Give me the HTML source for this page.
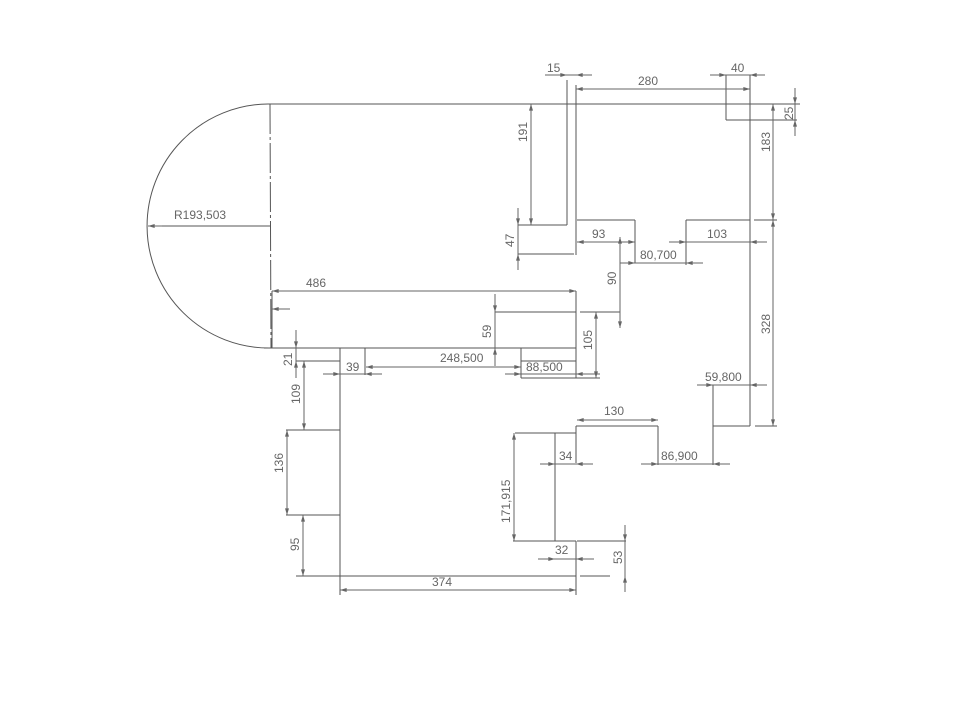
<!DOCTYPE html>
<html><head><meta charset="utf-8"><style>
html,body{margin:0;padding:0;background:#fff;}
svg{display:block;}
text{font-family:"Liberation Sans",sans-serif;font-size:12px;fill:#666;}
</style></head><body>
<svg width="961" height="723" viewBox="0 0 961 723" xmlns="http://www.w3.org/2000/svg">
<defs>
<marker id="a" viewBox="0 0 10 6" refX="10" refY="3" markerWidth="7" markerHeight="4" orient="auto-start-reverse" markerUnits="userSpaceOnUse"><path d="M0,0L10,3L0,6z" fill="#666"/></marker>
</defs>
<g stroke="#555" stroke-width="1" fill="none">
<path d="M268,104 A122,122 0 0 0 270,348"/>
<line x1="268" y1="104" x2="800" y2="104"/>
<line x1="270" y1="104" x2="271" y2="348" stroke-dasharray="30,3,3,3"/>
<line x1="148" y1="226" x2="270" y2="226"/>
<line x1="264" y1="348" x2="576" y2="348"/>
<line x1="272" y1="291" x2="272" y2="348"/>
<line x1="567" y1="80" x2="567" y2="225"/>
<line x1="576" y1="85" x2="576" y2="255"/>
<line x1="518" y1="225" x2="567" y2="225"/>
<line x1="518" y1="225" x2="518" y2="254"/>
<line x1="518" y1="254" x2="574" y2="254"/>
<line x1="577" y1="220" x2="635" y2="220"/>
<line x1="635" y1="220" x2="635" y2="263"/>
<line x1="686" y1="220" x2="750" y2="220"/>
<line x1="686" y1="220" x2="686" y2="265"/>
<line x1="754" y1="220" x2="777" y2="220"/>
<line x1="750" y1="75" x2="750" y2="426"/>
<line x1="726" y1="75" x2="726" y2="120"/>
<line x1="726" y1="120" x2="797" y2="120"/>
<line x1="580" y1="312" x2="620" y2="312"/>
<line x1="495" y1="312" x2="576" y2="312"/>
<line x1="576" y1="291" x2="576" y2="378"/>
<line x1="296" y1="361" x2="340" y2="361"/>
<line x1="521" y1="361" x2="576" y2="361"/>
<line x1="521" y1="348" x2="521" y2="378"/>
<line x1="521" y1="378" x2="600" y2="378"/>
<line x1="340" y1="348" x2="340" y2="576"/>
<line x1="365" y1="348" x2="365" y2="375"/>
<line x1="286" y1="430" x2="340" y2="430"/>
<line x1="286" y1="515" x2="340" y2="515"/>
<line x1="296" y1="576" x2="576" y2="576"/>
<line x1="580" y1="576" x2="610" y2="576"/>
<line x1="340" y1="576" x2="340" y2="595"/>
<line x1="576" y1="541" x2="576" y2="595"/>
<line x1="555" y1="433" x2="555" y2="541"/>
<line x1="515" y1="433" x2="555" y2="433"/>
<line x1="555" y1="433" x2="576" y2="433"/>
<line x1="576" y1="426" x2="576" y2="463"/>
<line x1="576" y1="426" x2="658" y2="426"/>
<line x1="658" y1="426" x2="658" y2="465"/>
<line x1="513" y1="541" x2="555" y2="541"/>
<line x1="555" y1="541" x2="576" y2="541"/>
<line x1="577" y1="541" x2="626" y2="541"/>
<line x1="713" y1="385" x2="713" y2="465"/>
<line x1="713" y1="426" x2="750" y2="426"/>
<line x1="755" y1="426" x2="777" y2="426"/>
</g>
<g stroke="#666" stroke-width="1" fill="none">
<line x1="545" y1="75" x2="592" y2="75"/>
<line x1="710" y1="75" x2="765" y2="75"/>
<line x1="795" y1="88" x2="795" y2="136"/>
<line x1="518" y1="208" x2="518" y2="270"/>
<line x1="669" y1="242" x2="767" y2="242"/>
<line x1="620" y1="263" x2="703" y2="263"/>
<line x1="495" y1="294" x2="495" y2="366"/>
<line x1="505" y1="374" x2="600" y2="374"/>
<line x1="323" y1="374" x2="382" y2="374"/>
<line x1="296" y1="330" x2="296" y2="378"/>
<line x1="540" y1="464" x2="593" y2="464"/>
<line x1="641" y1="464" x2="730" y2="464"/>
<line x1="697" y1="385" x2="767" y2="385"/>
<line x1="538" y1="559" x2="594" y2="559"/>
<line x1="625" y1="525" x2="625" y2="592"/>
</g>
<g stroke="#666" stroke-width="1" fill="none" marker-end="url(#a)">
<line x1="576" y1="89" x2="750" y2="89" marker-start="url(#a)"/>
<line x1="545" y1="75" x2="567" y2="75"/>
<line x1="592" y1="75" x2="576" y2="75"/>
<line x1="710" y1="75" x2="726" y2="75"/>
<line x1="765" y1="75" x2="750" y2="75"/>
<line x1="795" y1="88" x2="795" y2="104"/>
<line x1="795" y1="136" x2="795" y2="120"/>
<line x1="773" y1="104" x2="773" y2="220" marker-start="url(#a)"/>
<line x1="773" y1="220" x2="773" y2="426" marker-start="url(#a)"/>
<line x1="531" y1="104" x2="531" y2="225" marker-start="url(#a)"/>
<line x1="518" y1="208" x2="518" y2="225"/>
<line x1="518" y1="270" x2="518" y2="254"/>
<line x1="577" y1="242" x2="635" y2="242" marker-start="url(#a)"/>
<line x1="669" y1="242" x2="686" y2="242"/>
<line x1="767" y1="242" x2="750" y2="242"/>
<line x1="703" y1="263" x2="686" y2="263"/>
<line x1="620" y1="263" x2="635" y2="263"/>
<line x1="620" y1="237" x2="620" y2="328" marker-start="url(#a)"/>
<line x1="272" y1="291" x2="576" y2="291" marker-start="url(#a)"/>
<line x1="495" y1="294" x2="495" y2="312"/>
<line x1="495" y1="366" x2="495" y2="348"/>
<line x1="596" y1="312" x2="596" y2="378" marker-start="url(#a)"/>
<line x1="366" y1="367" x2="521" y2="367" marker-start="url(#a)"/>
<line x1="505" y1="374" x2="521" y2="374"/>
<line x1="600" y1="374" x2="576" y2="374"/>
<line x1="323" y1="374" x2="340" y2="374"/>
<line x1="382" y1="374" x2="365" y2="374"/>
<line x1="296" y1="330" x2="296" y2="348"/>
<line x1="296" y1="378" x2="296" y2="361"/>
<line x1="304" y1="361" x2="304" y2="430" marker-start="url(#a)"/>
<line x1="287" y1="430" x2="287" y2="515" marker-start="url(#a)"/>
<line x1="303" y1="515" x2="303" y2="576" marker-start="url(#a)"/>
<line x1="340" y1="590" x2="576" y2="590" marker-start="url(#a)"/>
<line x1="577" y1="420" x2="658" y2="420" marker-start="url(#a)"/>
<line x1="540" y1="464" x2="555" y2="464"/>
<line x1="593" y1="464" x2="576" y2="464"/>
<line x1="641" y1="464" x2="658" y2="464"/>
<line x1="730" y1="464" x2="713" y2="464"/>
<line x1="697" y1="385" x2="713" y2="385"/>
<line x1="767" y1="385" x2="750" y2="385"/>
<line x1="514" y1="433" x2="514" y2="541" marker-start="url(#a)"/>
<line x1="538" y1="559" x2="555" y2="559"/>
<line x1="594" y1="559" x2="576" y2="559"/>
<line x1="625" y1="525" x2="625" y2="541"/>
<line x1="625" y1="592" x2="625" y2="576"/>
<line x1="162" y1="226" x2="148" y2="226"/>
<line x1="290" y1="309" x2="272" y2="309"/>
</g>
<g>
<text x="174" y="219">R193,503</text>
<text x="547" y="72">15</text>
<text x="638" y="85">280</text>
<text x="731" y="72">40</text>
<text x="592" y="238">93</text>
<text x="707" y="238">103</text>
<text x="640" y="259">80,700</text>
<text x="306" y="287">486</text>
<text x="440" y="362">248,500</text>
<text x="526" y="371">88,500</text>
<text x="346" y="371">39</text>
<text x="604" y="415">130</text>
<text x="559" y="460">34</text>
<text x="661" y="460">86,900</text>
<text x="705" y="381">59,800</text>
<text x="555" y="554">32</text>
<text x="432" y="586">374</text>
<text transform="translate(793,120) rotate(-90)">25</text>
<text transform="translate(770,152) rotate(-90)">183</text>
<text transform="translate(770,334) rotate(-90)">328</text>
<text transform="translate(527,142) rotate(-90)">191</text>
<text transform="translate(514,247) rotate(-90)">47</text>
<text transform="translate(616,285) rotate(-90)">90</text>
<text transform="translate(592,350) rotate(-90)">105</text>
<text transform="translate(491,338) rotate(-90)">59</text>
<text transform="translate(292,366) rotate(-90)">21</text>
<text transform="translate(300,404) rotate(-90)">109</text>
<text transform="translate(283,473) rotate(-90)">136</text>
<text transform="translate(299,551) rotate(-90)">95</text>
<text transform="translate(622,564) rotate(-90)">53</text>
<text transform="translate(510,523) rotate(-90)">171,915</text>
</g>
</svg>
</body></html>
